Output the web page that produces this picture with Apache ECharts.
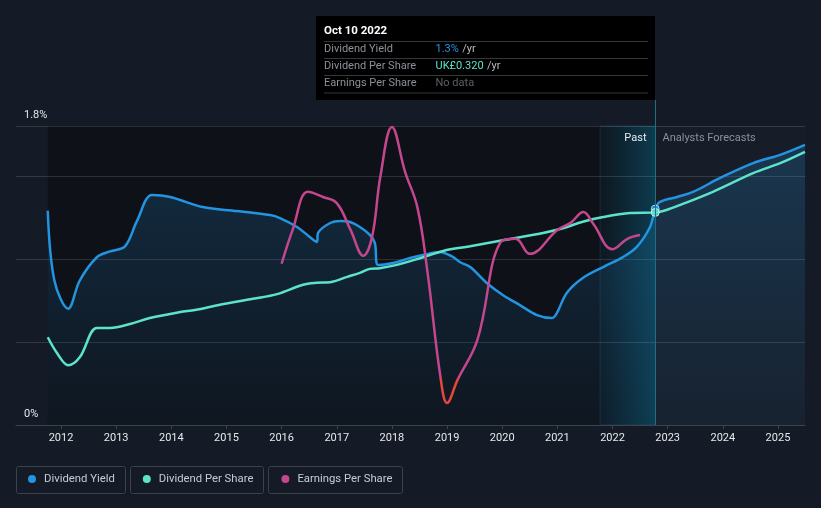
<!DOCTYPE html>
<html><head><meta charset="utf-8">
<script src="https://cdn.jsdelivr.net/npm/echarts@6/dist/echarts.min.js"></script>
<style>html,body{margin:0;padding:0;background:#151b26;}#c{width:821px;height:508px;}</style>
</head><body><div id="c"></div>
<script>
// ---- data (x = decimal year) ----
const yearTicks = [2012,2013,2014,2015,2016,2017,2018,2019,2020,2021,2022,2023,2024,2025];
const yLabelValues = [0, 1.8];
const yLabelTexts = ['0%', '1.8%'];

// Dividend Yield (%)
const dividendYield = [
  [2011.76,1.29],[2011.88,0.87],[2012.13,0.70],[2012.34,0.87],[2012.65,1.01],[2012.89,1.045],
  [2013.16,1.075],[2013.38,1.23],[2013.65,1.385],[2013.98,1.373],[2014.57,1.312],[2015.19,1.288],
  [2015.79,1.264],[2015.97,1.246],[2016.28,1.192],[2016.51,1.132],[2016.64,1.102],[2016.66,1.156],
  [2016.88,1.216],[2017.06,1.228],[2017.24,1.222],[2017.42,1.192],[2017.6,1.144],[2017.69,1.096],
  [2017.75,0.963],[2018.02,0.975],[2018.33,1.005],[2018.56,1.023],[2018.87,1.042],[2019.11,1.011],
  [2019.23,0.981],[2019.42,0.951],[2019.72,0.855],[2020.01,0.783],[2020.32,0.722],[2020.63,0.662],
  [2020.90,0.644],[2020.99,0.674],[2021.17,0.795],[2021.46,0.885],[2021.83,0.951],[2022.19,1.011],
  [2022.44,1.072],[2022.68,1.192],[2022.775,1.30],
  [2022.86,1.343],[2023.17,1.373],[2023.46,1.403],[2023.95,1.487],[2024.55,1.577],[2025.04,1.626],[2025.49,1.686]
];
// Dividend Per Share (GBP)
const dividendPerShare = [
  [2011.76,0.132],[2011.93,0.108],[2012.13,0.090],[2012.34,0.102],[2012.65,0.146],[2012.89,0.146],
  [2013.25,0.152],[2013.61,0.161],[2014.16,0.170],[2014.43,0.173],[2014.88,0.181],[2015.48,0.190],
  [2015.92,0.197],[2016.39,0.211],[2016.64,0.214],[2016.88,0.215],[2017.19,0.223],[2017.42,0.229],
  [2017.6,0.235],[2017.78,0.236],[2018.09,0.241],[2018.51,0.251],[2018.93,0.262],[2019.42,0.269],
  [2020.01,0.278],[2020.74,0.289],[2021.1,0.296],[2021.46,0.306],[2021.83,0.313],[2022.32,0.319],
  [2022.775,0.320],
  [2022.99,0.324],[2023.22,0.331],[2023.82,0.351],[2024.55,0.379],[2025.04,0.394],[2025.49,0.411]
];
// Earnings Per Share (GBP)
const earningsPerShare = [
  [2016.0,0.243],[2016.2,0.315],[2016.48,0.396],[2016.75,0.385],[2017.0,0.372],[2017.25,0.315],
  [2017.48,0.260],[2017.64,0.300],[2017.79,0.428],[2018.0,0.534],[2018.24,0.438],[2018.46,0.364],
  [2018.64,0.230],[2018.88,0.002],[2019.0,-0.053],[2019.19,-0.004],[2019.55,0.081],[2019.97,0.289],
  [2020.24,0.296],[2020.5,0.264],[2021.0,0.315],[2021.24,0.330],[2021.47,0.353],[2021.65,0.328],
  [2022.0,0.274],[2022.27,0.296],[2022.5,0.304]
];
const xMin = 2011.184, xMax = 2025.49;
const epsMin = -0.1, epsMax = 0.536;
const tooltipDate = 2022.775;
const pastBandStart = 2021.775;
const tooltipTitle = 'Oct 10 2022';
const tooltipLabels = ['Dividend Yield', 'Dividend Per Share', 'Earnings Per Share'];
const tooltipValues = ['1.3%', 'UK£0.320', 'No data'];
const seriesNames = ['Dividend Yield', 'Dividend Per Share', 'Earnings Per Share'];

const BLUE = '#2394df', TEAL = '#5de3ca', MAG = '#c4468d', RED = '#e5473b';
const FONT = 'Roboto, "Noto Sans", sans-serif';

const chart = echarts.init(document.getElementById('c'), null, {renderer: 'canvas'});
const dataStart = dividendYield[0][0];
const lastYield = dividendYield.find(d => d[0] === tooltipDate);
const lastDps = dividendPerShare.find(d => d[0] === tooltipDate);

// grid geometry
const G = {left: 16, right: 16, top: 126, bottom: 83, W: 821, H: 508};
const gx0 = G.left, gx1 = G.W - G.right, gy0 = G.top, gy1 = G.H - G.bottom;
const xPix = x => gx0 + (x - xMin) / (xMax - xMin) * (gx1 - gx0);
const epsZeroPix = gy1 - (0 - epsMin) / (epsMax - epsMin) * (gy1 - gy0);

chart.setOption({
  backgroundColor: '#151b26',
  animation: false,
  textStyle: {fontFamily: FONT},
  grid: {left: G.left, right: G.right, top: G.top, bottom: G.bottom},
  legend: {
    left: 28, top: 472, padding: 0, itemWidth: 8, itemHeight: 8, itemGap: 28, icon: 'circle',
    data: seriesNames,
    textStyle: {color: '#c8ccd2', fontSize: 11.3, fontFamily: FONT, padding: [0,0,0,3], lineHeight: 14},
    selectedMode: false
  },
  xAxis: {
    type: 'value', min: xMin, max: xMax, z: 1,
    axisLine: {show: true, lineStyle: {color: '#3d424c', width: 1}},
    axisTick: {show: true, customValues: yearTicks, length: 4, lineStyle: {color: '#3d424c'}},
    axisLabel: {customValues: yearTicks, color: '#e6e8eb', fontSize: 11, margin: 8, formatter: v => String(Math.round(v))},
    splitLine: {show: false}
  },
  yAxis: [
    {
      type: 'value', min: 0, max: 1.8, interval: 0.5, z: 1,
      axisLine: {show: false}, axisTick: {show: false},
      splitLine: {show: true, lineStyle: {color: 'rgba(255,255,255,0.13)', width: 1}},
      axisLabel: {
        inside: true, margin: 8, color: '#e6e8eb', fontSize: 11, verticalAlign: 'bottom', padding: [0,0,5,0],
        showMinLabel: true, showMaxLabel: true,
        formatter: v => { const i = yLabelValues.findIndex(t => Math.abs(t - v) < 1e-9); return i >= 0 ? yLabelTexts[i] : ''; }
      }
    },
    {type: 'value', min: 0, max: 0.45, show: false, splitLine: {show: false}},
    {type: 'value', min: epsMin, max: epsMax, show: false, splitLine: {show: false}}
  ],
  series: [
    {
      name: seriesNames[0], type: 'line', data: dividendYield, yAxisIndex: 0, z: 3,
      smooth: 0.35, showSymbol: false, color: BLUE,
      lineStyle: {color: BLUE, width: 2.5},
      areaStyle: {color: new echarts.graphic.LinearGradient(0,0,0,1,[
        {offset: 0, color: 'rgba(35,148,223,0.30)'}, {offset: 1, color: 'rgba(35,148,223,0.06)'}])}
    },
    {
      name: seriesNames[1], type: 'line', data: dividendPerShare, yAxisIndex: 1, z: 4,
      smooth: 0.35, showSymbol: false, color: TEAL,
      lineStyle: {color: TEAL, width: 2.5}
    },
    {
      name: seriesNames[2], type: 'line', data: earningsPerShare, yAxisIndex: 2, z: 5,
      smooth: 0.4, showSymbol: false, color: MAG,
      lineStyle: {width: 2.5, color: new echarts.graphic.LinearGradient(0, epsZeroPix - 0.5, 0, epsZeroPix + 0.5, [
        {offset: 0, color: MAG}, {offset: 1, color: RED}], true)}
    },
    {
      type: 'scatter', data: [lastYield], yAxisIndex: 0, z: 6, symbolSize: 8, silent: true,
      itemStyle: {color: BLUE, borderColor: '#cfe8f5', borderWidth: 1}
    },
    {
      type: 'scatter', data: [lastDps], yAxisIndex: 1, z: 7, symbolSize: 8, silent: true,
      itemStyle: {color: TEAL, borderColor: '#d8fff5', borderWidth: 1}
    }
  ],
  graphic: buildGraphics()
});

function buildGraphics() {
  const lx = Math.round(xPix(tooltipDate)) + 0.5;
  const sx = xPix(dataStart), bx = xPix(pastBandStart), ex = gx1;
  const boxW = 339, boxH = 84, boxTop = 16;
  const boxL = lx - boxW - 0.5;
  const gfx = [
    {type: 'rect', shape: {x: sx, y: gy0, width: lx - sx, height: gy1 - gy0}, style: {fill: '#0e1118'}, z: -5, silent: true},
    {type: 'rect', shape: {x: lx, y: gy0, width: ex - lx, height: gy1 - gy0}, style: {fill: 'rgba(255,255,255,0.012)'}, z: -5, silent: true},
    {type: 'rect', shape: {x: bx, y: gy0, width: lx - bx, height: gy1 - gy0}, style: {
      fill: new echarts.graphic.LinearGradient(0,0,1,0,[{offset: 0, color: 'rgba(10,120,160,0.06)'}, {offset: 1, color: 'rgba(10,130,170,0.38)'}]),
      stroke: 'rgba(40,120,150,0.25)', lineWidth: 1}, z: -4, silent: true},
    {type: 'line', shape: {x1: lx, y1: boxTop + boxH, x2: lx, y2: gy1}, style: {stroke: '#22707f', lineWidth: 1}, z: 10},
    {type: 'rect', shape: {x: boxL, y: boxTop, width: boxW, height: boxH}, style: {fill: '#000000'}, z: 20},
    {type: 'text', x: boxL + 8, y: boxTop + 15, style: {text: tooltipTitle, fill: '#ffffff', font: 'bold 11.5px ' + FONT, verticalAlign: 'middle'}, z: 21}
  ];
  const rowY = [33, 50, 67.5];
  const sepY = [25.5, 42.5, 59.5, 77];
  sepY.forEach(y => gfx.push({type: 'line', shape: {x1: boxL + 8, y1: boxTop + y, x2: boxL + boxW - 7, y2: boxTop + y}, style: {stroke: '#34373c', lineWidth: 1}, z: 21}));
  const valColors = [BLUE, TEAL, '#5b6068'];
  tooltipLabels.forEach((t, i) => {
    gfx.push({type: 'text', x: boxL + 8, y: boxTop + rowY[i], style: {text: t, fill: '#8b9099', font: '11px ' + FONT, verticalAlign: 'middle'}, z: 21});
    const suffix = i < 2 ? ' {u|/yr}' : '';
    gfx.push({type: 'text', x: boxL + 119.5, y: boxTop + rowY[i], style: {
      text: '{v|' + tooltipValues[i] + '}' + suffix, verticalAlign: 'middle',
      rich: {v: {fill: valColors[i], fontSize: 11, fontFamily: FONT}, u: {fill: '#b8bcc2', fontSize: 11, fontFamily: FONT}}}, z: 21});
  });
  gfx.push({type: 'text', x: lx - 9, y: gy0 + 12, style: {text: 'Past', fill: '#e8eaed', font: '11px ' + FONT, align: 'right', verticalAlign: 'middle'}, z: 10});
  gfx.push({type: 'text', x: lx + 7, y: gy0 + 12, style: {text: 'Analysts Forecasts', fill: '#8b9099', font: '11px ' + FONT, align: 'left', verticalAlign: 'middle'}, z: 10});
  const legendBoxes = [[16.5, 109], [130.5, 133], [268.5, 134]];
  legendBoxes.forEach(b => gfx.push({type: 'rect', shape: {x: b[0], y: 466.5, width: b[1], height: 27, r: 2}, style: {fill: 'none', stroke: '#3b404a', lineWidth: 1}, z: 0}));
  return gfx;
}
</script></body></html>
